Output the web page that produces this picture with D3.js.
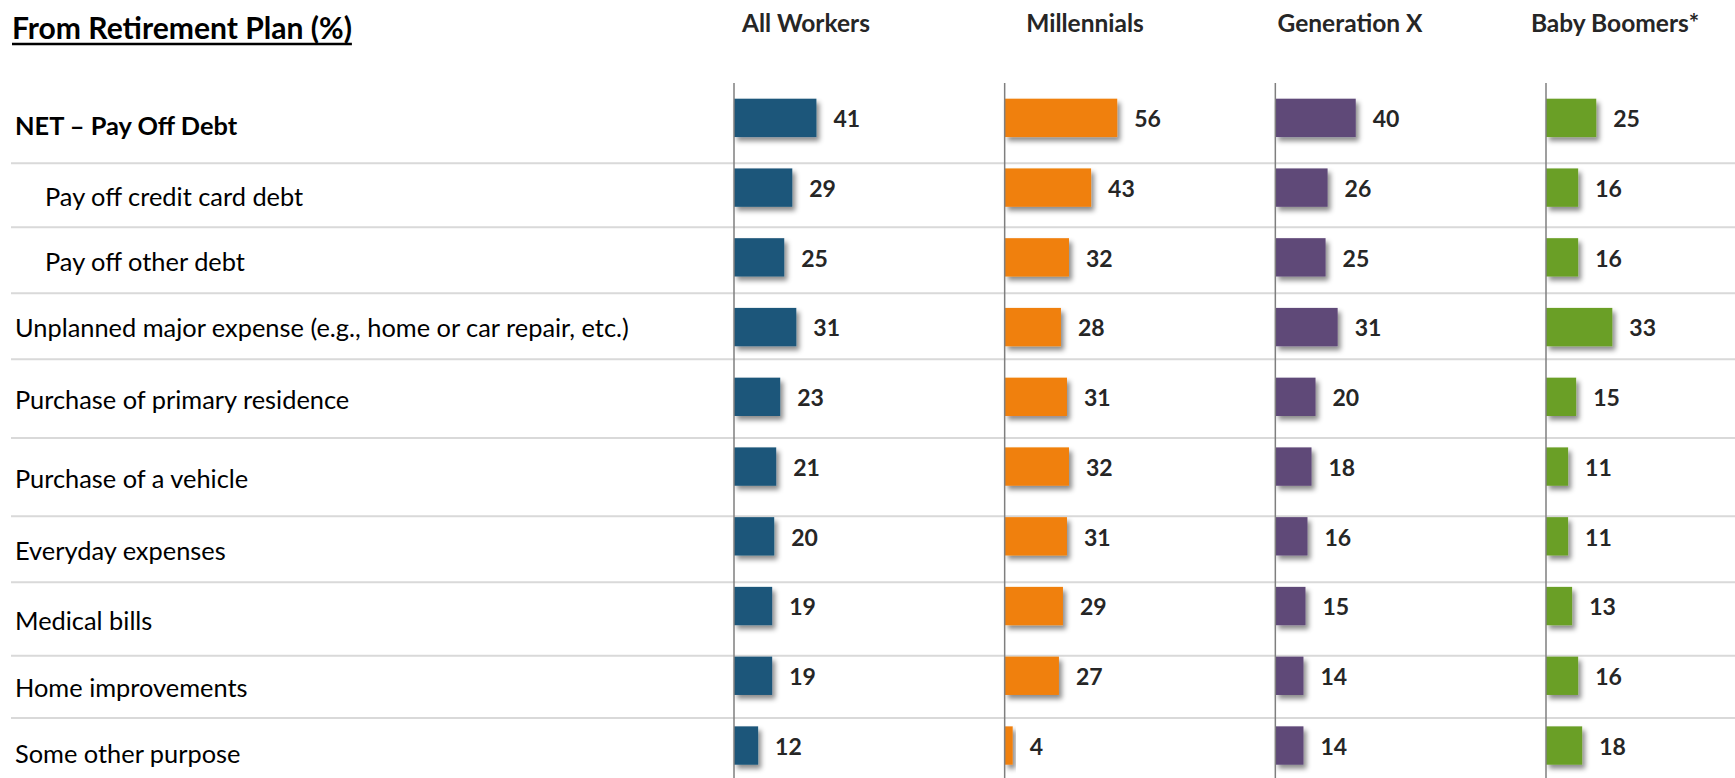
<!DOCTYPE html>
<html>
<head>
<meta charset="utf-8">
<script src="https://cdn.jsdelivr.net/npm/d3@7/dist/d3.min.js"></script>
<style>
  html, body { margin: 0; padding: 0; background: #fff; }
  svg { display: block; }
  text { font-family: Lato, "Open Sans", sans-serif; }
</style>
</head>
<body>
<svg id="chart" width="1735" height="778"></svg>
<script>
// ---------- data ----------
const title = "From Retirement Plan (%)";
const categories = [
  "NET – Pay Off Debt",
  "Pay off credit card debt",
  "Pay off other debt",
  "Unplanned major expense (e.g., home or car repair, etc.)",
  "Purchase of primary residence",
  "Purchase of a vehicle",
  "Everyday expenses",
  "Medical bills",
  "Home improvements",
  "Some other purpose"
];
const categoryLevel = [0, 1, 1, 0, 0, 0, 0, 0, 0, 0]; // 1 = sub-item (indented)
const seriesNames = ["All Workers", "Millennials", "Generation X", "Baby Boomers*"];
const allWorkers  = [41, 29, 25, 31, 23, 21, 20, 19, 19, 12];
const millennials = [56, 43, 32, 28, 31, 32, 31, 29, 27, 4];
const generationX = [40, 26, 25, 31, 20, 18, 16, 15, 14, 14];
const babyBoomers = [25, 16, 16, 33, 15, 11, 11, 13, 16, 18];
const seriesValues = [allWorkers, millennials, generationX, babyBoomers];

// ---------- layout / style ----------
const W = 1735, H = 778;
const colors = ["#1d577a", "#f0800b", "#5f4878", "#6a9f28"];
const textColor = "#262626";
const rowEdges = [86, 163.3, 227.3, 293.3, 359.3, 438, 516.3, 582.3, 655.7, 718, 786];
const headerCenters = [806, 1085, 1350, 1615];

const svg = d3.select("#chart");

const defs = svg.append("defs");
const f = defs.append("filter").attr("id", "shadow")
  .attr("x", "-20%").attr("y", "-30%").attr("width", "160%").attr("height", "170%");
f.append("feDropShadow").attr("dx", 3).attr("dy", 4).attr("stdDeviation", 2.6)
  .attr("flood-color", "#000").attr("flood-opacity", 0.45);

// scales
const y = d3.scaleBand().domain(d3.range(categories.length))
  .range([83, 780.4]).paddingInner(0.45).paddingOuter(0.225);
const colX = d3.scaleLinear().domain([0, 3]).range([734, 1546]);
const len = d3.scaleLinear().domain([0, 100]).range([0, 201]);

// helper: fit font size so text width hits a target
function fitSize(str, weight, target, base) {
  const t = svg.append("text").attr("font-size", base).attr("font-weight", weight).text(str);
  const w = t.node().getComputedTextLength();
  t.remove();
  return base * target / w;
}

// separators
svg.append("g").selectAll("line")
  .data(rowEdges.slice(1, -1))
  .join("line")
  .attr("x1", 11).attr("x2", W)
  .attr("y1", d => d).attr("y2", d => d)
  .attr("stroke", "#d9d9d9").attr("stroke-width", 2);

// title
const titleSize = fitSize(title, 700, 340, 30);
const titleText = svg.append("text")
  .attr("x", 12).attr("y", 38.5)
  .attr("font-size", titleSize).attr("font-weight", 700)
  .attr("fill", "#000")
  .text(title);
const titleW = titleText.node().getComputedTextLength();
svg.append("line")
  .attr("x1", 12).attr("x2", 12 + titleW)
  .attr("y1", 44).attr("y2", 44)
  .attr("stroke", "#000").attr("stroke-width", 2.5);

// category labels
const labelSize = fitSize(categories[3], 400, 614, 22);
svg.append("g").selectAll("text")
  .data(categories)
  .join("text")
  .attr("x", (d, i) => categoryLevel[i] ? 45 : 15)
  .attr("y", (d, i) => (rowEdges[i] + rowEdges[i + 1]) / 2 + 10.5)
  .attr("font-size", labelSize)
  .attr("font-weight", (d, i) => i === 0 ? 700 : 400)
  .attr("fill", "#000")
  .text(d => d);

// headers
const headerSize = fitSize(seriesNames[0], 700, 128, 20);
svg.append("g").selectAll("text")
  .data(seriesNames)
  .join("text")
  .attr("x", (d, i) => headerCenters[i])
  .attr("y", 31.5)
  .attr("text-anchor", "middle")
  .attr("font-size", headerSize)
  .attr("font-weight", 700)
  .attr("fill", textColor)
  .text(d => d);

// columns
seriesValues.forEach((vals, s) => {
  const g = svg.append("g").attr("transform", `translate(${colX(s)},0)`);
  g.selectAll("rect")
    .data(vals)
    .join("rect")
    .attr("x", 0)
    .attr("y", (d, i) => y(i))
    .attr("width", d => len(d))
    .attr("height", y.bandwidth())
    .attr("fill", colors[s])
    .attr("filter", "url(#shadow)");
  g.selectAll("text")
    .data(vals)
    .join("text")
    .attr("x", d => len(d) + 17)
    .attr("y", (d, i) => y(i) + y.bandwidth() / 2 + 1)
    .attr("dy", "0.36em")
    .attr("font-size", 23)
    .attr("font-weight", 700)
    .attr("fill", textColor)
    .text(d => d);
  g.append("line")
    .attr("x1", 0).attr("x2", 0)
    .attr("y1", 83).attr("y2", H)
    .attr("stroke", "#7f7f7f").attr("stroke-width", 1.5);
});
</script>
</body>
</html>
